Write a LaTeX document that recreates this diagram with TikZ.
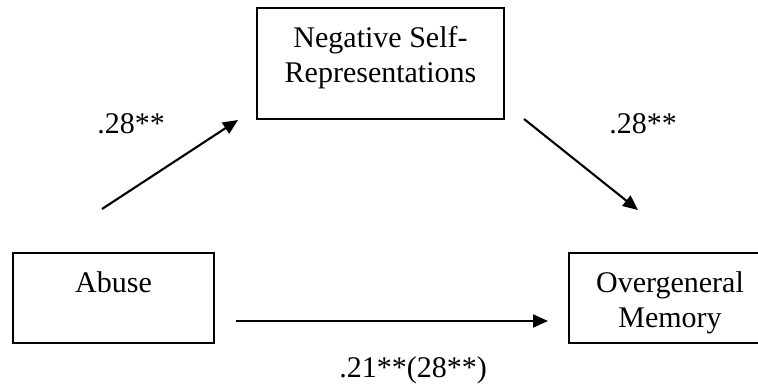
\documentclass[tikz,border=0pt]{standalone}
\usepackage{fontspec}
\setmainfont{Liberation Serif}
\usetikzlibrary{arrows.meta}
\begin{document}
\begin{tikzpicture}[x=1pt,y=-1pt,
  box/.style={draw,line width=2.4pt,inner sep=0pt},
  txt/.style={inner sep=0pt,anchor=base,font=\fontsize{30}{35}\selectfont},
  arr/.style={line width=2.1pt,-{Triangle[length=15pt,width=13pt]}}]
\useasboundingbox (0,0) rectangle (758,388);
\clip (0,0) rectangle (758,388);
\fill[white] (0,0) rectangle (758,388);
\node[box,minimum width=247pt,minimum height=111pt] (neg) at (380.5,63.5) {};
\node[box,minimum width=201pt,minimum height=90pt] (abuse) at (113.5,298) {};
\node[box,minimum width=202pt,minimum height=90pt] (mem) at (670,298) {};
\node[txt] (negt1) at (neg.center |- 0,47) {Negative Self-};
\node[txt] (negt2) at (neg.center |- 0,82) {Representations};
\node[txt] (abuset) at (abuse.center |- 0,292) {Abuse};
\node[txt] (memt1) at (670,292) {Overgeneral};
\node[txt] (memt2) at (670,327) {Memory};
\coordinate (a1s) at (102,209);
\coordinate (a1e) at (238,120);
\coordinate (a2s) at (524,119);
\coordinate (a2e) at (638,210);
\coordinate (a3s) at (236,321);
\coordinate (a3e) at (548,321);
\draw[arr] (a1s) -- (a1e);
\draw[arr] (a2s) -- (a2e);
\draw[arr] (a3s) -- (a3e);
\node[txt] (l1) at (131,133) {.28**};
\node[txt] (l2) at (643,133) {.28**};
\node[txt] (l3) at (413,377) {.21**(28**)};
\end{tikzpicture}
\end{document}
